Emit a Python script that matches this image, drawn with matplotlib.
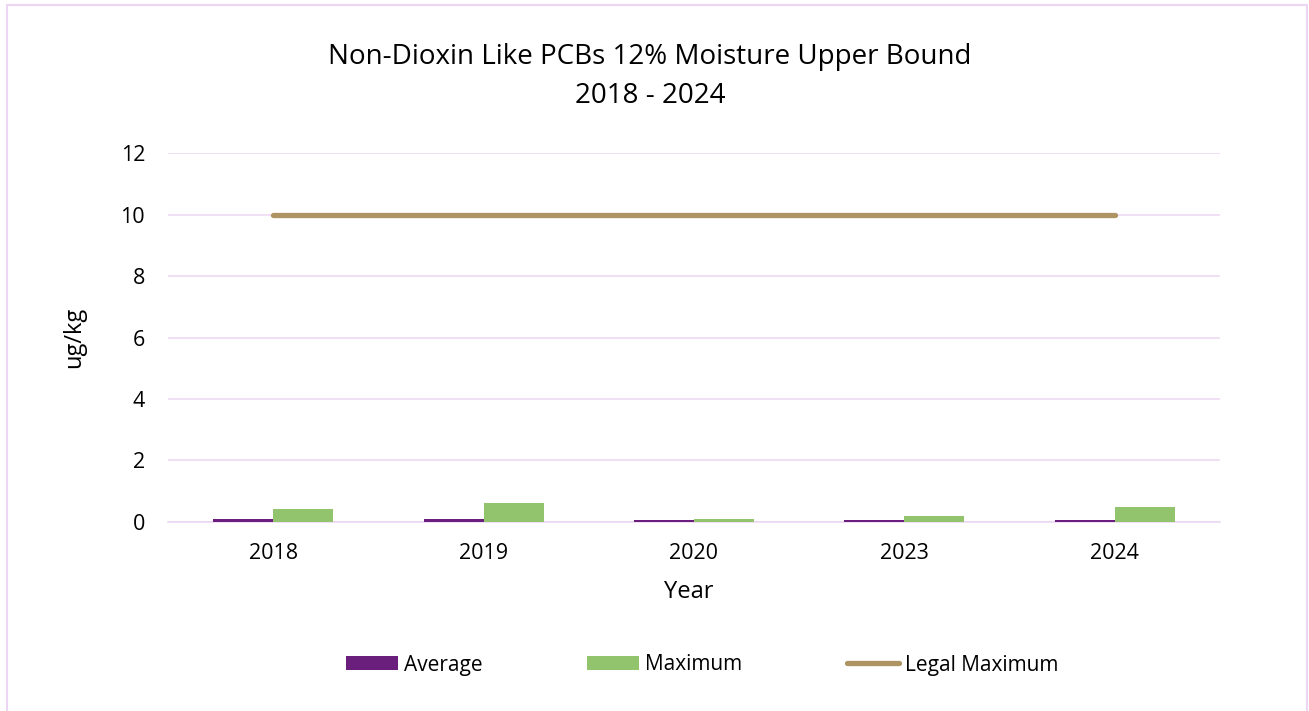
import numpy as np
import matplotlib
matplotlib.use("Agg")
import matplotlib.pyplot as plt
from matplotlib.patches import Rectangle

plt.rcParams['font.family'] = ['Open Sans', 'DejaVu Sans']

years = ['2018', '2019', '2020', '2023', '2024']
average = [0.08, 0.08, 0.06, 0.04, 0.055]
maximum = [0.40, 0.60, 0.10, 0.19, 0.47]
legal_max = [10, 10, 10, 10, 10]

pink = '#ecd6f3'
purple = '#6b1f7d'
green = '#92c46d'
tan = '#ad9462'

fig = plt.figure(figsize=(13.09, 7.11), dpi=100)
ax = fig.add_axes([168/1309, 1-521.7/711, (1220-168)/1309, (521.7-153.3)/711])

x = np.arange(len(years))
w = 0.285
ax.bar(x - w/2, average, w, color=purple, label='Average', zorder=3)
ax.bar(x + w/2, maximum, w, color=green, label='Maximum', zorder=3)
ax.plot(x, legal_max, color=tan, lw=3.8, solid_capstyle='round', label='Legal Maximum', zorder=4)

ax.set_xlim(-0.5, len(years) - 0.5)
ax.set_ylim(0, 12)
ax.set_yticks(range(0, 13, 2))
ax.set_xticks(x)
ax.set_xticklabels(years)
ax.grid(axis='y', color=pink, lw=1.1, zorder=0)
for s in ['top', 'right', 'left']:
    ax.spines[s].set_visible(False)
ax.spines['bottom'].set_color(pink)
ax.spines['bottom'].set_linewidth(1.1)
ax.tick_params(length=0, labelsize=15.5, colors='#000000')
ax.tick_params(axis='x', pad=15.5)
ax.tick_params(axis='y', pad=16.5)

ax.set_xlabel('Year', fontsize=17, va='center')
ax.xaxis.set_label_coords(0.495, -70/368.4)
ax.set_ylabel('ug/kg', fontsize=17)
ax.yaxis.set_label_coords(-82/1052, 0.5)

fig.text(650/1309, 1-57/711, 'Non-Dioxin Like PCBs 12% Moisture Upper Bound',
         ha='center', va='center', fontsize=20)
fig.text(650/1309, 1-96/711, '2018 - 2024', ha='center', va='center', fontsize=20)

handles, labels = ax.get_legend_handles_labels()
order = [1, 2, 0]
fig.legend([handles[i] for i in order], [labels[i] for i in order],
           loc='center', bbox_to_anchor=(702/1309, 1-665/711), ncol=3, frameon=False,
           fontsize=15, handlelength=2.5, handleheight=0.63, handletextpad=0.3,
           columnspacing=5.0)

fig.patches.append(Rectangle((7/1309, -0.05), 1300/1309, 1.05 - 5/711,
                             transform=fig.transFigure, fill=False,
                             edgecolor=pink, lw=1.5))

fig.savefig('out.png', dpi=100, facecolor='white')
